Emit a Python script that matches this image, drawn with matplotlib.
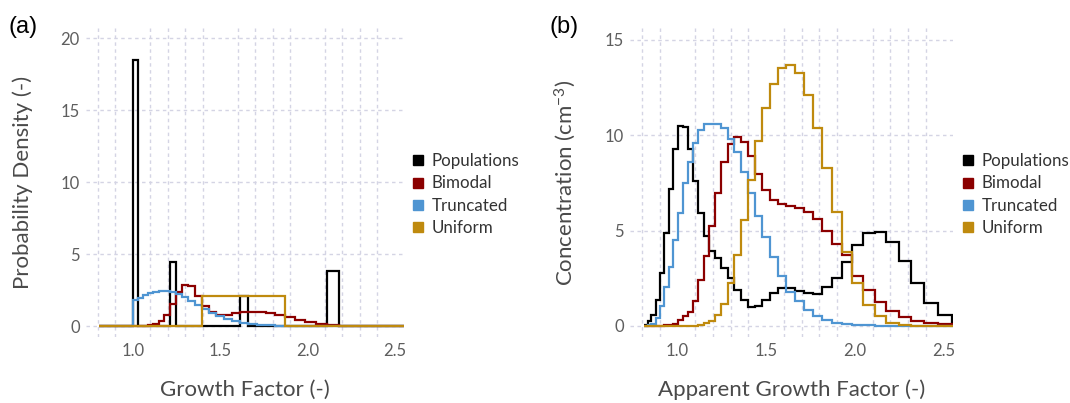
import matplotlib
matplotlib.use("Agg")
import matplotlib.pyplot as plt
from matplotlib.lines import Line2D
import numpy as np

plt.rcParams['font.family'] = ['Lato', 'DejaVu Sans']
plt.rcParams['mathtext.default'] = 'regular'

# ---------------- data ----------------
# bin edges (growth factor), shared by both panels
edges = [0.809, 0.831, 0.853, 0.876, 0.900, 0.925, 0.950, 0.976, 1.003, 1.030,
         1.058, 1.087, 1.117, 1.148, 1.180, 1.213, 1.247, 1.282, 1.318, 1.356,
         1.395, 1.436, 1.478, 1.522, 1.567, 1.613, 1.661, 1.711, 1.762, 1.815,
         1.870, 1.927, 1.986, 2.048, 2.112, 2.178, 2.247, 2.318, 2.392, 2.469,
         2.549, 2.632]

series_names = ["Populations", "Bimodal", "Truncated", "Uniform"]

# panel (a): probability density
pop_a = [0, 0, 0, 0, 0, 0, 0, 0, 18.5, 0,
         0, 0, 0, 0, 0, 4.45, 0, 0, 0, 0,
         0, 0, 0, 0, 0, 2.1, 0, 0, 0, 0,
         0, 0, 0, 0, 3.85, 0, 0, 0, 0, 0,
         0]
bim_a = [0, 0, 0, 0, 0, 0, 0, 0, 0, 0,
         0, 0.07, 0.16, 0.37, 0.77, 1.52, 2.37, 2.88, 2.8, 2.12,
         1.37, 0.97, 0.75, 0.75, 0.88, 0.97, 1.0, 0.98, 0.92, 0.8,
         0.6, 0.4, 0.25, 0.13, 0.07, 0.03, 0, 0, 0, 0,
         0]
trunc_a = [0, 0, 0, 0, 0, 0, 0, 0, 1.78, 1.97,
           2.14, 2.29, 2.4, 2.46, 2.46, 2.4, 2.23, 2.0, 1.76, 1.47,
           1.22, 0.92, 0.68, 0.5, 0.34, 0.22, 0.14, 0.08, 0.05, 0.03,
           0, 0, 0, 0, 0, 0, 0, 0, 0, 0,
           0]
unif_a = [0, 0, 0, 0, 0, 0, 0, 0, 0, 0,
          0, 0, 0, 0, 0, 0, 0, 0, 0, 0,
          2.1, 2.1, 2.1, 2.1, 2.1, 2.1, 2.1, 2.1, 2.1, 2.1,
          0, 0, 0, 0, 0, 0, 0, 0, 0, 0,
          0]

# panel (b): concentration (cm^-3)
pop_b = [0.05, 0.25, 0.55, 1.35, 2.8, 4.85, 7.2, 9.3, 10.5, 10.45,
         9.3, 7.6, 5.9, 4.7, 3.95, 3.55, 3.05, 2.5, 1.9, 1.35,
         1.0, 1.05, 1.35, 1.75, 2.0, 1.97, 1.85, 1.72, 1.65, 2.05,
         2.5, 3.35, 4.25, 4.85, 4.92, 4.4, 3.4, 2.25, 1.2, 0.57,
         0.17]
bim_b = [0, 0, 0, 0, 0.01, 0.03, 0.05, 0.12, 0.3, 0.5,
         0.75, 1.32, 2.4, 3.68, 5.25, 6.95, 8.6, 9.55, 9.9, 9.65,
         8.9, 7.97, 7.15, 6.6, 6.37, 6.28, 6.2, 5.99, 5.59, 5.0,
         4.3, 3.7, 2.6, 1.9, 1.25, 0.78, 0.47, 0.27, 0.14, 0.08,
         0.05]
trunc_b = [0, 0.03, 0.1, 0.4, 1.05, 2.06, 3.1, 4.5, 5.93, 7.47,
           8.6, 9.6, 10.26, 10.58, 10.6, 10.6, 10.4, 9.8, 9.1, 8.05,
           6.98, 5.75, 4.68, 3.6, 2.6, 1.8, 1.3, 0.85, 0.52, 0.31,
           0.17, 0.1, 0.06, 0.04, 0.02, 0.01, 0, 0, 0, 0,
           0]
unif_b = [0, 0, 0, 0, 0, 0, 0, 0, 0, 0,
          0, 0.02, 0.05, 0.14, 0.28, 0.58, 1.15, 2.24, 3.72, 5.56,
          7.66, 9.67, 11.4, 12.7, 13.5, 13.7, 13.25, 12.1, 10.4, 8.27,
          5.95, 3.86, 2.24, 1.1, 0.5, 0.18, 0.06, 0.02, 0, 0,
          0]

x_major = [1.0, 1.5, 2.0, 2.5]
x_minor = [0.8, 0.9, 1.0, 1.1, 1.2, 1.3, 1.4, 1.5, 1.6, 1.7, 1.8, 1.9,
           2.0, 2.1, 2.2, 2.3, 2.4, 2.5]
y_ticks_a = [0, 5, 10, 15, 20]
y_ticks_b = [0, 5, 10, 15]

colors = ["#000000", "#8B0000", "#4F95D2", "#BF8A0E"]

# ---------------- figure ----------------
W, H = 1070, 403
fig = plt.figure(figsize=(W / 100, H / 100), dpi=100)

def px_rect(l, t, r, b):
    return [l / W, 1 - b / H, (r - l) / W, (b - t) / H]

ax_a = fig.add_axes(px_rect(86, 28, 404, 337))
ax_b = fig.add_axes(px_rect(630, 28, 953, 337))

grid_kw = dict(color="#d4d4e4", linestyle=(0, (2.5, 2.5)), linewidth=1.0)

def style(ax, yticks, ylim):
    ax.set_xlim(0.732, 2.553)
    ax.set_ylim(*ylim)
    ax.set_xticks(x_major)
    ax.set_xticklabels(["%.1f" % v for v in x_major])
    ax.set_xticks(x_minor, minor=True)
    ax.set_yticks(yticks)
    ax.set_yticklabels([str(v) for v in yticks])
    for s in ax.spines.values():
        s.set_visible(False)
    ax.tick_params(which="both", length=0)
    ax.tick_params(axis="x", pad=4.5, labelsize=12, labelcolor="#5e5e5e")
    ax.tick_params(axis="y", pad=4.5, labelsize=12, labelcolor="#5e5e5e")
    ax.grid(True, which="minor", axis="x", **grid_kw)
    ax.grid(True, which="major", axis="y", **grid_kw)
    ax.set_axisbelow(True)

datasets = [(ax_a, [pop_a, bim_a, trunc_a, unif_a]),
            (ax_b, [pop_b, bim_b, trunc_b, unif_b])]
for ax, sers in datasets:
    for vals, c in zip(sers, colors):
        ax.stairs(vals, edges, baseline=None, color=c, linewidth=1.6)

style(ax_a, y_ticks_a, (-0.76, 20.72))
style(ax_b, y_ticks_b, (-0.58, 15.62))

lab_kw = dict(fontsize=16, color="#4a4a4a")
ax_a.set_xlabel("Growth Factor (-)", va="center", **lab_kw)
ax_a.xaxis.set_label_coords(0.5, -0.172)
ax_a.set_ylabel("Probability Density (-)", va="center", **lab_kw)
ax_a.yaxis.set_label_coords(-0.198, 0.5)

ax_b.set_xlabel("Apparent Growth Factor (-)", va="center", **lab_kw)
ax_b.xaxis.set_label_coords(0.5, -0.172)
ax_b.set_ylabel("Concentration (cm$^{-3}$)", va="center", **lab_kw)
ax_b.yaxis.set_label_coords(-0.2, 0.5)

handles = [Line2D([], [], marker="s", linestyle="", color=c, markersize=6.5)
           for c in colors]
for ax, xl in [(ax_a, 411.8), (ax_b, 961.8)]:
    leg = ax.legend(handles, series_names, loc="center left",
                    bbox_to_anchor=(xl / W, 1 - 194.5 / H),
                    bbox_transform=fig.transFigure, frameon=False,
                    handlelength=0.7, handletextpad=0.45, labelspacing=0.36,
                    borderpad=0, borderaxespad=0, fontsize=12.2)
    for t in leg.get_texts():
        t.set_color("#333333")

fig.text(8 / W, 1 - 27 / H, "(a)", ha="left", va="center", fontsize=17,
         family=["Liberation Sans", "DejaVu Sans"], color="black")
fig.text(550 / W, 1 - 27 / H, "(b)", ha="left", va="center", fontsize=17,
         family=["Liberation Sans", "DejaVu Sans"], color="black")

fig.savefig("out.png", dpi=100, facecolor="white")
